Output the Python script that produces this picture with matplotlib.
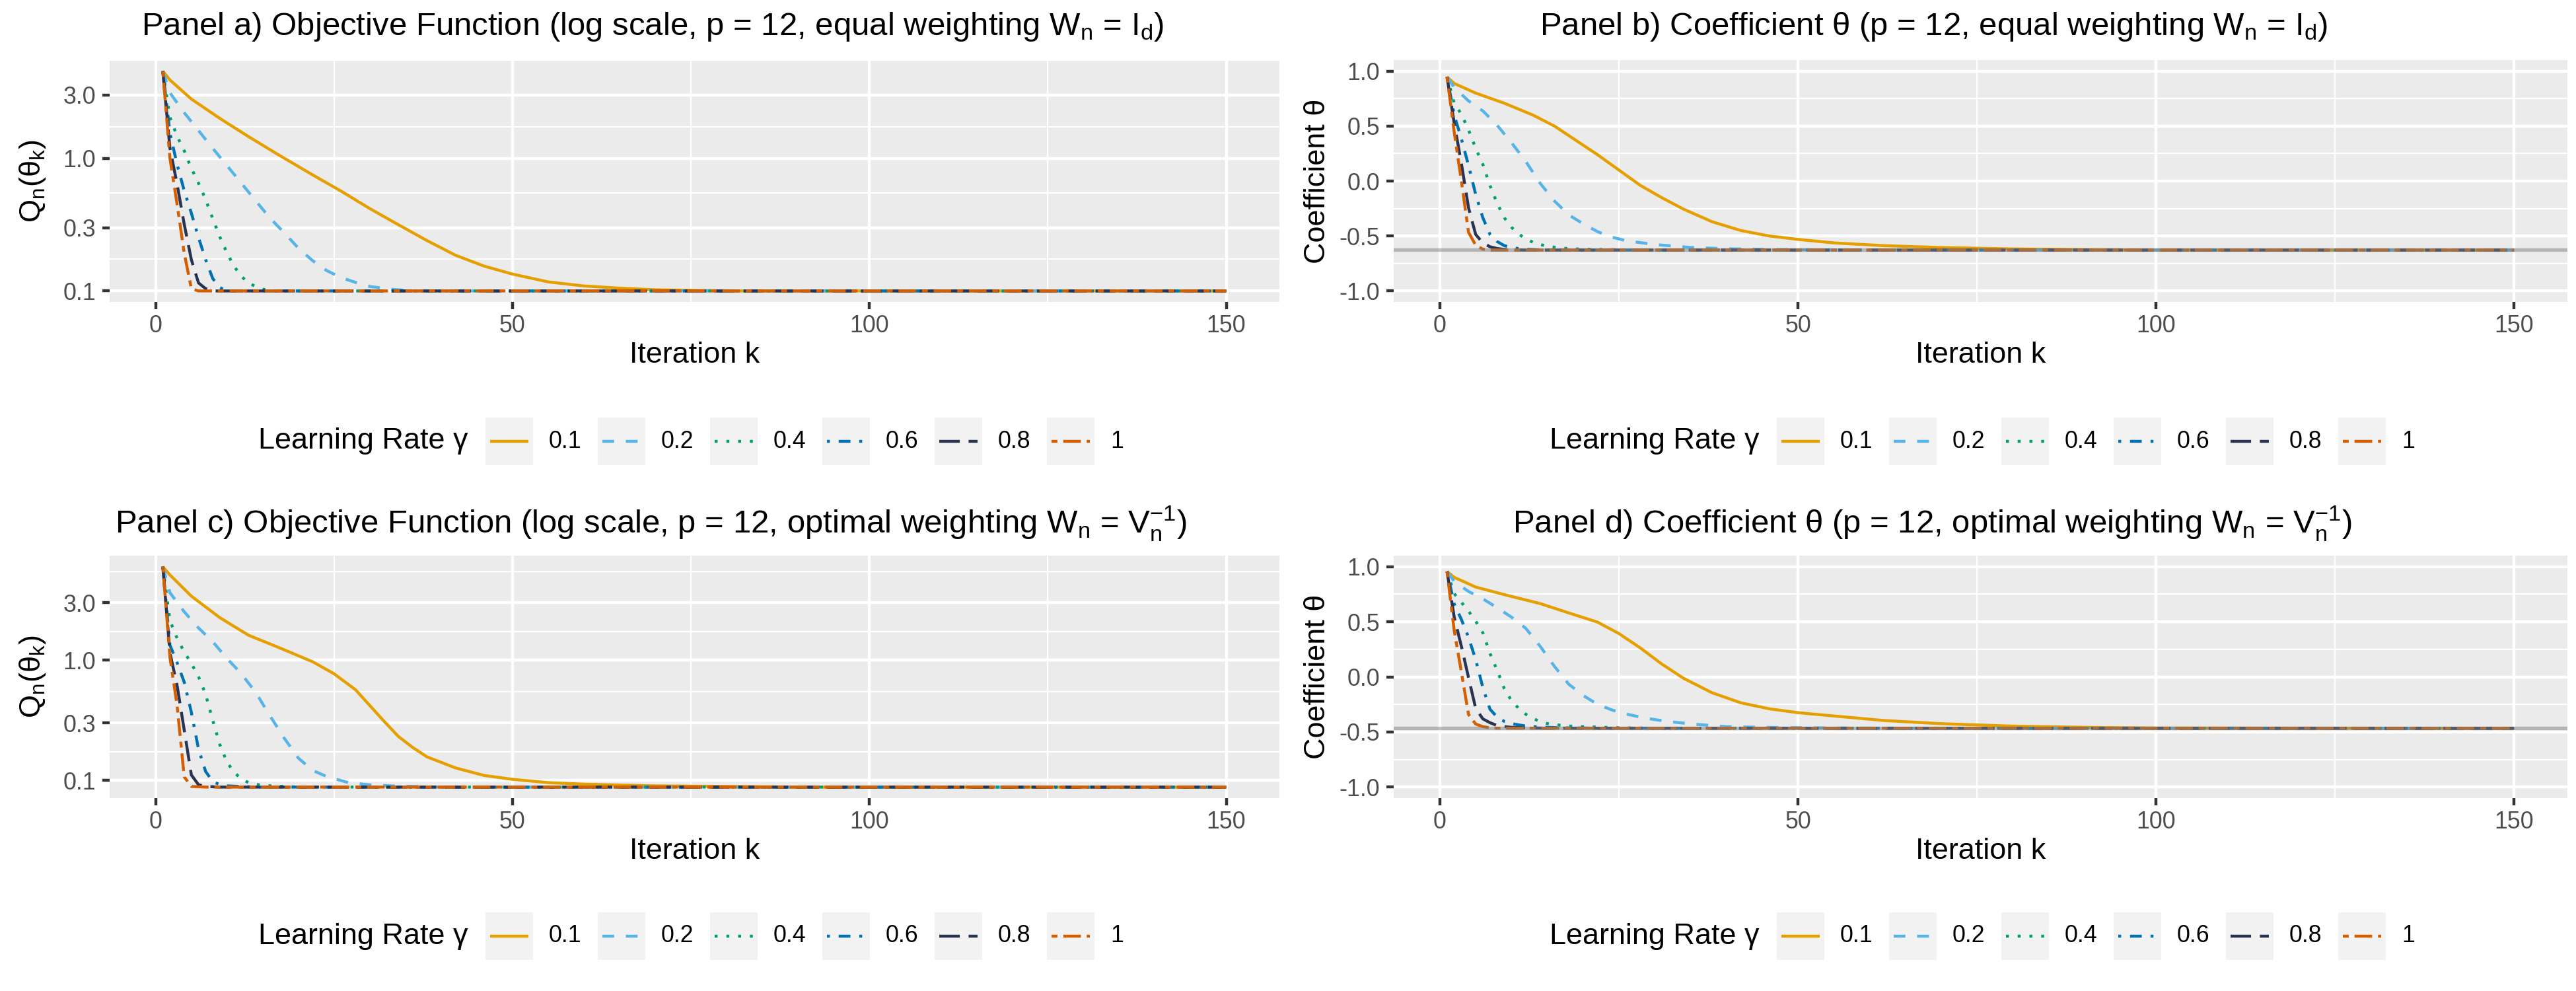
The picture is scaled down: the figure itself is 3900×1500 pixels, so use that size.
import numpy as np
import matplotlib.pyplot as plt
from matplotlib.patches import Rectangle
from matplotlib.lines import Line2D

plt.rcParams['font.family'] = ['Liberation Sans', 'DejaVu Sans']
plt.rcParams['mathtext.fontset'] = 'custom'
plt.rcParams['mathtext.rm'] = 'Liberation Sans'
plt.rcParams['mathtext.it'] = 'Liberation Sans:italic'
plt.rcParams['axes.unicode_minus'] = False
plt.rcParams['lines.scale_dashes'] = False

# learning rates and their styles
gammas = ["0.1", "0.2", "0.4", "0.6", "0.8", "1"]
colors = ["#E69F00", "#56B4E9", "#009E73", "#0072B2", "#293352", "#D55E00"]

# ---- panel a: objective, equal weighting ----
a01_k = [1, 2, 5, 9, 13, 17, 22, 26, 30, 34, 38, 42, 46, 50, 55, 60, 65, 70, 80, 150]
a01_v = [4.55, 3.9, 2.8, 2.0, 1.46, 1.08, 0.75, 0.565, 0.418, 0.316, 0.24, 0.186, 0.154, 0.134, 0.117, 0.109, 0.105, 0.102, 0.1, 0.1]
a02_k = [1, 2, 4, 6, 8, 10, 12, 14, 16, 18, 20, 22, 24, 26, 28, 30, 33, 36, 150]
a02_v = [4.55, 3.12, 2.21, 1.62, 1.19, 0.88, 0.65, 0.48, 0.355, 0.275, 0.21, 0.169, 0.142, 0.126, 0.116, 0.108, 0.103, 0.1, 0.1]
a04_k = list(range(1, 18)) + [150]
a04_v = [4.55, 2.04, 1.47, 1.14, 0.84, 0.65, 0.49, 0.35, 0.255, 0.193, 0.153, 0.129, 0.115, 0.108, 0.103, 0.101, 0.1, 0.1]
a06_k = list(range(1, 11)) + [150]
a06_v = [4.55, 1.55, 0.90, 0.57, 0.386, 0.253, 0.172, 0.124, 0.106, 0.1, 0.1]
a08_k = list(range(1, 9)) + [150]
a08_v = [4.55, 1.19, 0.64, 0.318, 0.172, 0.115, 0.104, 0.1, 0.1]
a10_k = list(range(1, 7)) + [150]
a10_v = [4.55, 1.0, 0.45, 0.193, 0.104, 0.1, 0.1]

# ---- panel b: coefficient, equal weighting ----
b01_k = [1, 2, 5, 9, 13, 16, 19, 22, 25, 28, 31, 34, 38, 42, 46, 50, 55, 62, 70, 80, 90, 100, 150]
b01_v = [0.948, 0.888, 0.80, 0.708, 0.60, 0.50, 0.37, 0.24, 0.10, -0.04, -0.152, -0.255, -0.37, -0.45, -0.50,
         -0.531, -0.563, -0.588, -0.605, -0.618, -0.624, -0.627, -0.628]
b02_k = [1, 2, 4, 6, 8, 10, 12, 14, 16, 18, 20, 22, 24, 26, 30, 35, 40, 45, 55, 150]
b02_v = [0.948, 0.851, 0.729, 0.638, 0.507, 0.349, 0.178, -0.02, -0.182, -0.308, -0.389, -0.46, -0.51, -0.543,
         -0.578, -0.604, -0.616, -0.622, -0.627, -0.628]
b04_k = list(range(1, 17)) + [18, 20, 25, 30, 150]
b04_v = [0.948, 0.709, 0.608, 0.466, 0.298, 0.152, -0.041, -0.203, -0.334, -0.421, -0.482, -0.527, -0.557,
         -0.578, -0.592, -0.602, -0.616, -0.62, -0.626, -0.628, -0.628]
b06_k = list(range(1, 13)) + [14, 16, 150]
b06_v = [0.948, 0.60, 0.385, 0.142, -0.122, -0.334, -0.486, -0.551, -0.588, -0.604, -0.615, -0.621, -0.626, -0.628, -0.628]
b08_k = list(range(1, 11)) + [12, 150]
b08_v = [0.948, 0.527, 0.162, -0.243, -0.486, -0.563, -0.598, -0.614, -0.622, -0.626, -0.628, -0.628]
b10_k = list(range(1, 8)) + [150]
b10_v = [0.948, 0.446, 0.0, -0.466, -0.584, -0.62, -0.628, -0.628]
b_target = -0.628

# ---- panel c: objective, optimal weighting ----
c01_k = [1, 2, 5, 9, 13, 17, 22, 25, 28, 30, 32, 34, 36, 38, 42, 46, 50, 55, 60, 70, 80, 90, 150]
c01_v = [5.98, 5.1, 3.40, 2.25, 1.61, 1.29, 0.968, 0.769, 0.567, 0.419, 0.31, 0.232, 0.188, 0.157, 0.127,
         0.110, 0.102, 0.0958, 0.093, 0.09, 0.089, 0.088, 0.088]
c02_k = [1, 2, 4, 6, 8, 10, 12, 14, 16, 18, 20, 22, 24, 27, 30, 33, 40, 150]
c02_v = [5.98, 3.63, 2.52, 1.85, 1.42, 1.03, 0.77, 0.541, 0.345, 0.225, 0.153, 0.121, 0.1075, 0.0958, 0.0918,
         0.0899, 0.088, 0.088]
c04_k = list(range(1, 16)) + [20, 150]
c04_v = [5.98, 2.13, 1.52, 1.17, 0.935, 0.73, 0.519, 0.315, 0.197, 0.142, 0.116, 0.1035, 0.0958, 0.093,
         0.0906, 0.088, 0.088]
c06_k = list(range(1, 11)) + [14, 150]
c06_v = [5.98, 1.33, 0.95, 0.656, 0.368, 0.182, 0.1186, 0.098, 0.092, 0.09, 0.088, 0.088]
c08_k = list(range(1, 8)) + [9, 150]
c08_v = [5.98, 1.15, 0.615, 0.262, 0.111, 0.092, 0.089, 0.088, 0.088]
c10_k = list(range(1, 6)) + [7, 150]
c10_v = [5.98, 1.05, 0.419, 0.107, 0.089, 0.088, 0.088]

# ---- panel d: coefficient, optimal weighting ----
d01_k = [1, 2, 5, 9, 14, 18, 22, 25, 28, 31, 34, 38, 42, 46, 50, 55, 62, 70, 80, 90, 100, 150]
d01_v = [0.957, 0.903, 0.815, 0.746, 0.665, 0.58, 0.497, 0.393, 0.262, 0.116, -0.012, -0.144, -0.235, -0.29,
         -0.325, -0.355, -0.396, -0.425, -0.447, -0.458, -0.464, -0.467]
d02_k = [1, 2, 4, 6, 8, 10, 12, 14, 16, 18, 20, 22, 24, 26, 28, 30, 33, 36, 40, 45, 55, 70, 150]
d02_v = [0.957, 0.866, 0.775, 0.708, 0.627, 0.542, 0.44, 0.278, 0.095, -0.067, -0.168, -0.249, -0.300, -0.337,
         -0.365, -0.388, -0.413, -0.432, -0.452, -0.458, -0.464, -0.467, -0.467]
d04_k = list(range(1, 17)) + [18, 20, 25, 30, 150]
d04_v = [0.957, 0.755, 0.677, 0.596, 0.505, 0.40, 0.212, 0.059, -0.107, -0.215, -0.286, -0.339, -0.377,
         -0.406, -0.424, -0.434, -0.446, -0.452, -0.462, -0.466, -0.467]
d06_k = list(range(1, 13)) + [14, 17, 22, 150]
d06_v = [0.957, 0.663, 0.521, 0.359, 0.156, -0.097, -0.294, -0.365, -0.404, -0.424, -0.436, -0.446, -0.456,
         -0.462, -0.466, -0.467]
d08_k = list(range(1, 11)) + [12, 15, 150]
d08_v = [0.957, 0.542, 0.278, -0.006, -0.286, -0.381, -0.416, -0.442, -0.452, -0.458, -0.463, -0.466, -0.467]
d10_k = list(range(1, 9)) + [150]
d10_v = [0.957, 0.42, 0.045, -0.341, -0.428, -0.452, -0.462, -0.466, -0.467]
d_target = -0.467

x_ticks = [0, 50, 100, 150]
x_minor = [25, 75, 125]
q_ticks = [0.1, 0.3, 1.0, 3.0]
q_labels = ["0.1", "0.3", "1.0", "3.0"]
t_ticks = [-1.0, -0.5, 0.0, 0.5, 1.0]
t_labels = ["-1.0", "-0.5", "0.0", "0.5", "1.0"]

# ggplot-like line widths / dash patterns (1 unit = lwd 1.42 -> 1.066 pt)
U = 1.066
styles = ['-', (0, (4 * U, 4 * U)), (0, (1 * U, 3 * U)), (0, (1 * U, 3 * U, 4 * U, 3 * U)),
          (0, (7 * U, 3 * U)), (0, (2 * U, 2 * U, 6 * U, 2 * U))]

W, H = 3900, 1500
fig = plt.figure(figsize=(13, 5), dpi=300)


def fx(x):
    return x / W


def fy(y):
    return 1 - y / H


panels = [
    dict(box=(166, 91, 1937, 457), log=True, hline=None, dx=0, ly=668, tx=988, ty=53,
         data=[(a01_k, a01_v), (a02_k, a02_v), (a04_k, a04_v), (a06_k, a06_v), (a08_k, a08_v), (a10_k, a10_v)],
         title=r"Panel a) Objective Function (log scale, p = 12, equal weighting $\mathregular{W_n}$ = $\mathregular{I_d}$)",
         ylabel=r"$\mathregular{Q_n(θ_k)}$"),
    dict(box=(2110, 91, 3887, 457), log=False, hline=b_target, dx=1955, ly=668, tx=2928, ty=53,
         data=[(b01_k, b01_v), (b02_k, b02_v), (b04_k, b04_v), (b06_k, b06_v), (b08_k, b08_v), (b10_k, b10_v)],
         title=r"Panel b) Coefficient θ (p = 12, equal weighting $\mathregular{W_n}$ = $\mathregular{I_d}$)",
         ylabel="Coefficient θ"),
    dict(box=(166, 841, 1937, 1208), log=True, hline=None, dx=0, ly=1417, tx=985, ty=807,
         data=[(c01_k, c01_v), (c02_k, c02_v), (c04_k, c04_v), (c06_k, c06_v), (c08_k, c08_v), (c10_k, c10_v)],
         title=r"Panel c) Objective Function (log scale, p = 12, optimal weighting $\mathregular{W_n}$ = $\mathregular{V_n^{-1}}$)",
         ylabel=r"$\mathregular{Q_n(θ_k)}$"),
    dict(box=(2110, 841, 3887, 1208), log=False, hline=d_target, dx=1955, ly=1417, tx=2925, ty=807,
         data=[(d01_k, d01_v), (d02_k, d02_v), (d04_k, d04_v), (d06_k, d06_v), (d08_k, d08_v), (d10_k, d10_v)],
         title=r"Panel d) Coefficient θ (p = 12, optimal weighting $\mathregular{W_n}$ = $\mathregular{V_n^{-1}}$)",
         ylabel="Coefficient θ"),
]

for p in panels:
    x0, y0, x1, y1 = p['box']
    ax = fig.add_axes([fx(x0), fy(y1), (x1 - x0) / W, (y1 - y0) / H])
    ax.set_facecolor('#EBEBEB')
    for s in ax.spines.values():
        s.set_visible(False)

    for i, (k, v) in enumerate(p['data']):
        ax.plot(k, v, color=colors[i], lw=U, linestyle=styles[i],
                solid_capstyle='butt', dash_capstyle='butt', zorder=3)
    if p['hline'] is not None:
        ax.axhline(p['hline'], color='#7F7F7F', alpha=0.5, lw=1.28, zorder=4)

    ax.set_xlim(1 - 0.05 * 149, 150 + 0.05 * 149)
    ax.set_xticks(x_ticks)
    ax.set_xticks(x_minor, minor=True)

    if p['log']:
        ax.set_yscale('log')
        vals = np.concatenate([np.asarray(v, float) for _, v in p['data']])
        lo, hi = np.log10(vals.min()), np.log10(vals.max())
        pad = 0.05 * (hi - lo)
        ax.set_ylim(10 ** (lo - pad), 10 ** (hi + pad))
        ax.set_yticks(q_ticks)
        ax.set_yticklabels(q_labels)
        lg = np.log10(q_ticks)
        mids = list(10 ** ((lg[:-1] + lg[1:]) / 2)) + [10 ** ((lg[-1] + 1) / 2)]
        ax.set_yticks(mids, minor=True)
        ax.yaxis.set_minor_formatter(plt.NullFormatter())
    else:
        ax.set_ylim(-1.1, 1.1)
        ax.set_yticks(t_ticks)
        ax.set_yticklabels(t_labels)
        ax.set_yticks([-0.75, -0.25, 0.25, 0.75], minor=True)

    ax.grid(which='major', color='white', lw=U, zorder=0)
    ax.grid(which='minor', color='white', lw=U / 2, zorder=0)
    ax.set_axisbelow(True)
    ax.tick_params(which='major', length=2.75, width=U, color='#333333',
                   labelcolor='#4D4D4D', labelsize=8.6)
    ax.tick_params(axis='x', which='major', pad=1.8)
    ax.tick_params(axis='y', which='major', pad=2.2)
    ax.tick_params(which='minor', length=0)

    ax.set_xlabel("Iteration k", fontsize=10.8, labelpad=1.5)
    ax.set_ylabel(p['ylabel'], fontsize=10.8)
    ax.yaxis.label.set_va('center')
    ax.yaxis.set_label_coords((50 - x0 + (1945 if not p['log'] else 0)) / (x1 - x0), 0.5)

    fig.text(fx(p['tx']), fy(p['ty']), p['title'], ha='center', va='baseline', fontsize=11.8)

    # legend (ggplot-style, horizontal, below the panel)
    dx, ly = p['dx'], p['ly']
    fig.text(fx(391 + dx), fy(ly), "Learning Rate γ", ha='left', va='center', fontsize=10.8)
    for i, g in enumerate(gammas):
        kx = 735 + dx + 170 * i
        fig.add_artist(Rectangle((fx(kx), fy(ly + 36)), 72 / W, 72 / H, transform=fig.transFigure,
                                 facecolor='#F2F2F2', edgecolor='none'))
        fig.add_artist(Line2D([fx(kx + 7), fx(kx + 65)], [fy(ly), fy(ly)], transform=fig.transFigure,
                              color=colors[i], lw=U, linestyle=styles[i],
                              solid_capstyle='butt', dash_capstyle='butt'))
        fig.text(fx(kx + 96), fy(ly), g, ha='left', va='center', fontsize=8.6)

fig.savefig('out.png', dpi=300, facecolor='white')
